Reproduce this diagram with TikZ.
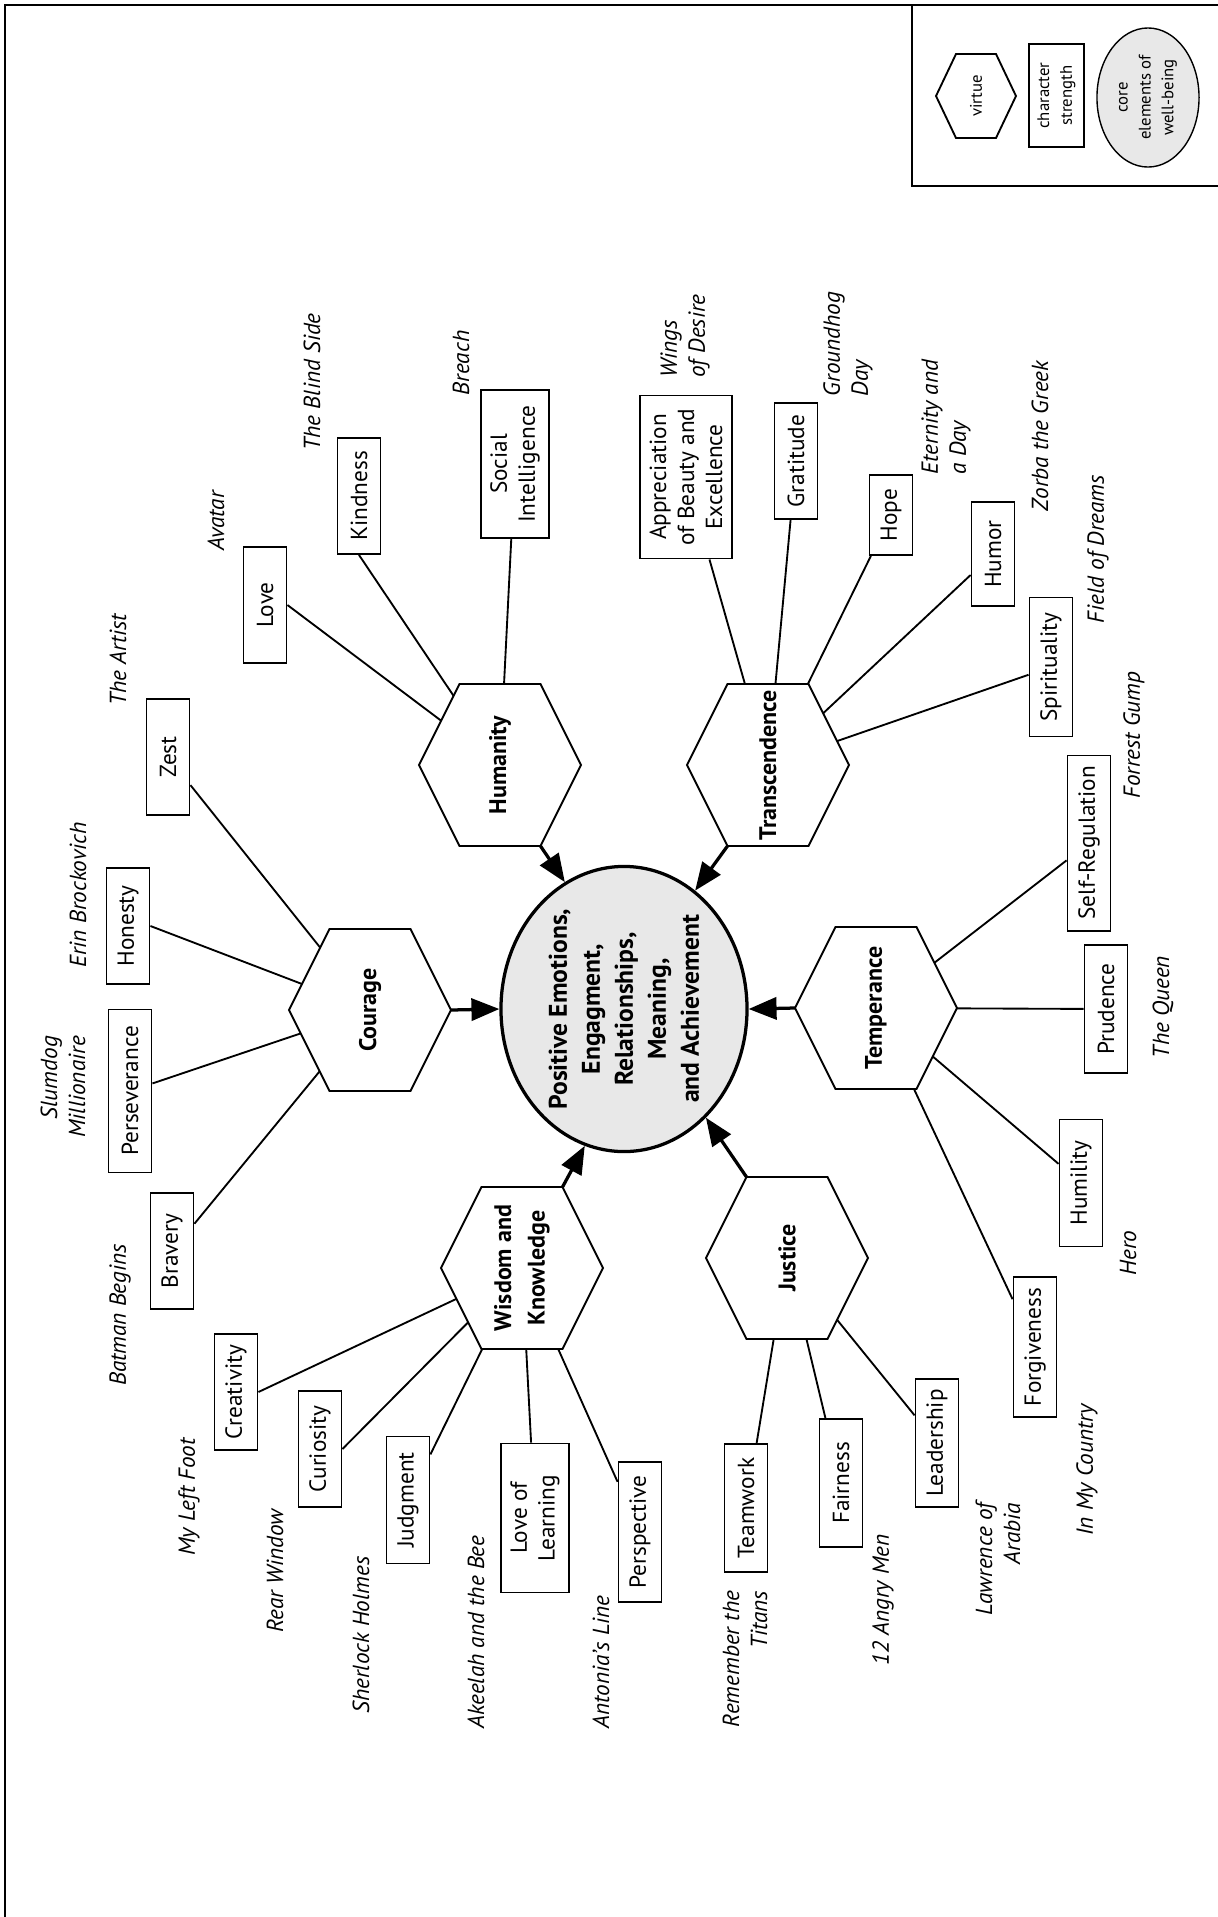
\documentclass[tikz,border=0pt]{standalone}
\usepackage{fontspec}
\setmainfont{PT Sans}
\usetikzlibrary{arrows.meta,calc,shapes.geometric}
\pgfdeclarelayer{background}
\pgfsetlayers{background,main}
\definecolor{wellgray}{gray}{0.91}
\newcommand{\legendfont}{\fontsize{7.2}{9.8}\selectfont}
% hexagon round a virtue node: name, half width, half height
\newcommand{\virtuehex}[3]{%
  \draw[hexline] ($(#1.center)+(-#2,0)$) coordinate (#1-w)
    -- ($(#1.center)+(-#2/2,-#3)$) coordinate (#1-nw)
    -- ($(#1.center)+(#2/2,-#3)$) coordinate (#1-ne)
    -- ($(#1.center)+(#2,0)$) coordinate (#1-e)
    -- ($(#1.center)+(#2/2,#3)$) coordinate (#1-se)
    -- ($(#1.center)+(-#2/2,#3)$) coordinate (#1-sw)
    -- cycle;}

\begin{document}
\begin{tikzpicture}[x=0.43pt, y=-0.43pt,
		strength/.style={draw, fill=white, rotate=90, line width=0.8pt, align=center, inner xsep=2pt, inner ysep=4pt, minimum width=49.9pt, minimum height=18.5pt},
		film/.style={rotate=90, font=\itshape, inner sep=0pt},
		virtue/.style={rotate=90, font=\bfseries\fontsize{10.3}{14.4}\selectfont, align=center, inner sep=0pt},
		hexline/.style={draw, fill=white, line width=0.8pt},
		well/.style={ellipse, draw, fill=wellgray, inner sep=0pt},
		spoke/.style={line width=0.8pt},
		feed/.style={line width=1.4pt, -{Triangle[length=12pt, width=9.5pt]}}
	]
	\useasboundingbox (0,0) rectangle (1218,1917);
	\draw[line width=0.9pt] (1218,5) -- (5,5) -- (5,1917);
	\draw[line width=0.9pt] (912,5) -- (912,186) -- (1218,186);

	% legend
	\node[virtue, font=\legendfont] (legvirtue) at (976,96) {virtue};
	\node[strength, font=\legendfont, line width=0.6pt, minimum width=44.3pt, minimum height=23.7pt, inner ysep=2pt] (legstrength) at (1056.5,95.5) {character\\strength};
	\node[well, line width=0.6pt, minimum width=43.9pt, minimum height=59.8pt, label={[rotate=90, align=center, font=\legendfont]center:{core\\elements of\\well-being}}] (legcore) at (1148,97.5) {};

	\node[well, line width=1.4pt, minimum width=105.8pt, minimum height=122.6pt, label={[rotate=90, align=center, font=\bfseries\fontsize{11}{14.2}\selectfont]center:{Positive Emotions,\\Engagment,\\Relationships,\\Meaning,\\and Achievement}}] (core) at (624,1009) {};

	\node[virtue] (hum) at (500,765) {Humanity};
	\node[virtue] (trans) at (768,765) {Transcendence};
	\node[virtue] (cour) at (370,1010) {Courage};
	\node[virtue] (temp) at (876,1008) {Temperance};
	\node[virtue] (wis) at (522,1268) {Wisdom and\\Knowledge};
	\node[virtue] (jus) at (787,1258) {Justice};

	\node[strength] (love) at (265,605) {Love};
	\node[strength] (kindness) at (359,496) {Kindness};
	\node[strength, minimum width=63.6pt] (socint) at (515,464) {Social\\Intelligence};
	\node[strength] (zest) at (168,757) {Zest};
	\node[strength] (honesty) at (128,926) {Honesty};
	\node[strength, minimum width=70.1pt] (persev) at (130,1091) {Perseverance};
	\node[strength] (bravery) at (172,1251) {Bravery};
	\node[strength] (creativity) at (236,1392) {Creativity};
	\node[strength] (curiosity) at (320,1449) {Curiosity};
	\node[strength, minimum width=54.6pt] (judgment) at (408,1500) {Judgment};
	\node[strength, minimum width=64.1pt] (lovelearn) at (535,1518) {Love of\\Learning};
	\node[strength, minimum width=60.2pt] (perspective) at (640,1532) {Perspective};
	\node[strength, minimum width=55pt] (teamwork) at (746,1508) {Teamwork};
	\node[strength, minimum width=55pt] (fairness) at (841,1483) {Fairness};
	\node[strength, minimum width=55pt] (leadership) at (937,1443) {Leadership};
	\node[strength, minimum width=60.2pt] (forgive) at (1035,1347) {Forgiveness};
	\node[strength, minimum width=54.6pt] (humility) at (1081,1183) {Humility};
	\node[strength, minimum width=55pt] (prudence) at (1106,1009) {Prudence};
	\node[strength, minimum width=75.3pt] (selfreg) at (1089,843) {Self-Regulation};
	\node[strength, minimum width=59.8pt] (spirit) at (1051,667) {Spirituality};
	\node[strength, minimum width=44.7pt] (humor) at (993,554) {Humor};
	\node[strength, minimum width=34.4pt] (hope) at (891,515) {Hope};
	\node[strength] (gratitude) at (796,461) {Gratitude};
	\node[strength, minimum width=70.1pt] (appreciation) at (686,477) {Appreciation\\of Beauty and\\Excellence};

	% films
	\node[film] (avatar) at (216,521) {Avatar};
	\node[film] (blindside) at (312,382) {The Blind Side};
	\node[film] (breach) at (461,363) {Breach};
	\node[film] (artist) at (118,660) {The Artist};
	\node[film] (erin) at (78,895) {Erin Brockovich};
	\node[film, align=right] (slumdog) at (63,1087) {Slumdog\\Millionaire};
	\node[film] (batman) at (120,1315) {Batman Begins};
	\node[film] (leftfoot) at (189,1497) {My Left Foot};
	\node[film] (rearwindow) at (275,1571) {Rear Window};
	\node[film] (sherlock) at (361,1635) {Sherlock Holmes};
	\node[film] (akeelah) at (476,1632) {Akeelah and the Bee};
	\node[film] (antonia) at (601,1662) {Antonia’s Line};
	\node[film, align=right] (titans) at (745,1659) {Remember the\\Titans};
	\node[film] (angrymen) at (883,1600) {12 Angry Men};
	\node[film, align=right] (lawrence) at (998,1559) {Lawrence of\\Arabia};
	\node[film] (mycountry) at (1087,1470) {In My Country};
	\node[film] (hero) at (1128,1253) {Hero};
	\node[film] (queen) at (1163,1007) {The Queen};
	\node[film] (forrest) at (1134,735) {Forrest Gump};
	\node[film] (dreams) at (1098,549) {Field of Dreams};
	\node[film] (zorba) at (1040,436) {Zorba the Greek};
	\node[film, align=left] (eternity) at (946,417) {Eternity and\\a Day};
	\node[film, align=left] (groundhog) at (848,344) {Groundhog\\Day};
	\node[film, align=left] (wings) at (685,336) {Wings\\of Desire};

	\begin{pgfonlayer}{background}
	\draw[spoke] (love.south) -- (hum.center);
	\draw[spoke] (kindness.west) -- (hum.center);
	\draw[spoke] (socint) -- (hum.center);
	\draw[spoke] (zest) -- (cour.center);
	\draw[spoke] (honesty.south) -- (cour.center);
	\draw[spoke] (persev) -- (cour.center);
	\draw[spoke] (bravery) -- (cour.center);
	\draw[spoke] (creativity.south) -- (wis.center);
	\draw[spoke] (curiosity.south) -- (wis.center);
	\draw[spoke] (judgment) -- (wis.center);
	\draw[spoke] (lovelearn) -- (wis.center);
	\draw[spoke] (perspective) -- (wis.center);
	\draw[spoke] (teamwork) -- (jus.center);
	\draw[spoke] (fairness) -- (jus.center);
	\draw[spoke] (leadership) -- (jus.center);
	\draw[spoke] (forgive) -- (temp.center);
	\draw[spoke] (humility) -- (temp.center);
	\draw[spoke] (prudence) -- (temp.center);
	\draw[spoke] (selfreg) -- (temp.center);
	\draw[spoke] (spirit) -- (trans.center);
	\draw[spoke] (humor) -- (trans.center);
	\draw[spoke] (hope) -- (trans.center);
	\draw[spoke] (gratitude) -- (trans.center);
	\draw[spoke] (appreciation) -- (trans.center);
	\virtuehex{legvirtue}{40}{42}
	\virtuehex{hum}{81}{81}
	\virtuehex{trans}{81}{81}
	\virtuehex{cour}{81}{81}
	\virtuehex{temp}{81}{81}
	\virtuehex{wis}{81}{81}
	\virtuehex{jus}{81}{81}
	\end{pgfonlayer}

	\draw[feed] (hum-se) -- (core.115);
	\draw[feed] (trans-sw) -- (core.59);
	\draw[feed] (cour-e) -- (core.west);
	\draw[feed] (temp-w) -- (core.east);
	\draw[feed] (wis-ne) -- (core.254);
	\draw[feed] (jus-nw) -- (core.307);
\end{tikzpicture}
\end{document}
